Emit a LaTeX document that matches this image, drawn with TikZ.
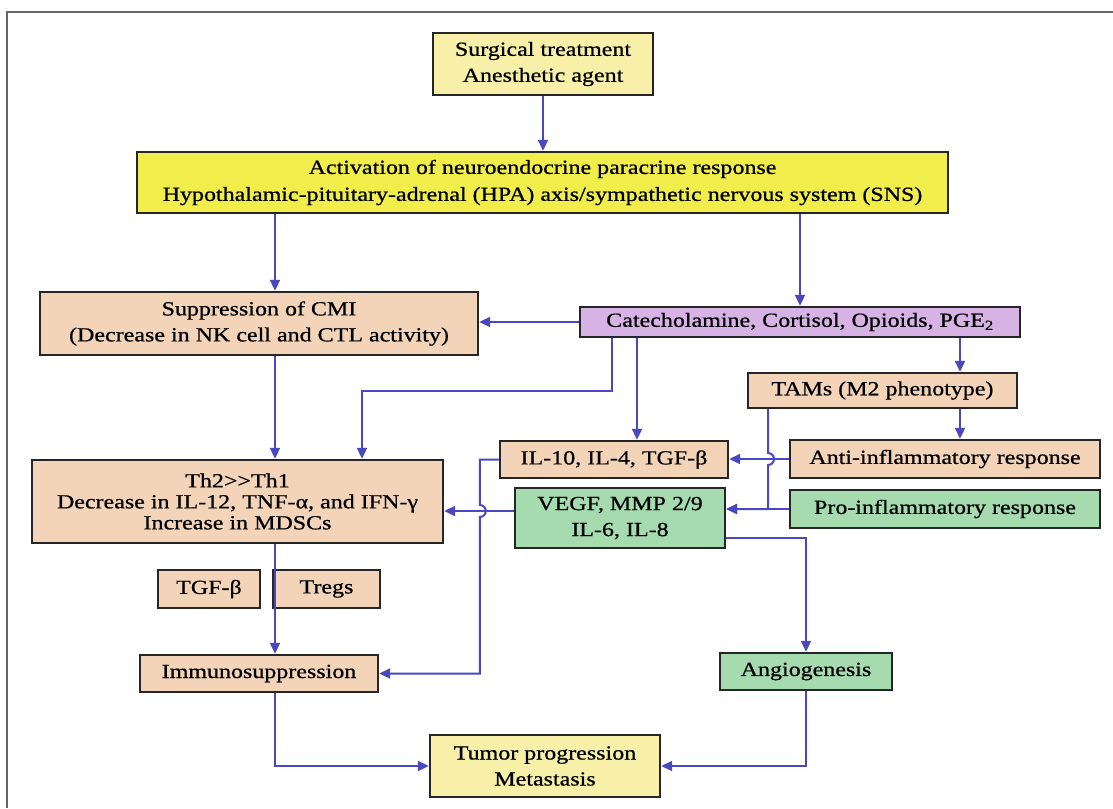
\documentclass[tikz,border=0pt]{standalone}
\usepackage{fontspec}
\setmainfont{Liberation Serif}[FakeStretch=1.2, FakeBold=0.7]
\usetikzlibrary{arrows.meta,calc}
\definecolor{palyel}{HTML}{F8F0A8}
\definecolor{brtyel}{HTML}{F1EE4C}
\definecolor{peach}{HTML}{F4D4B8}
\definecolor{lilac}{HTML}{D7B2E5}
\definecolor{mint}{HTML}{A6DBB0}
\definecolor{link}{HTML}{4A48C0}
\tikzset{
  box/.style={draw=black!85, line width=2.4pt, align=center, inner sep=0pt,
    font=\fontsize{20}{26}\selectfont},
  arr/.style={draw=link, line width=2pt, -{Triangle[length=11pt,width=10pt]}},
}
\begin{document}
\begin{tikzpicture}[x=1pt, y=-1pt]
  \useasboundingbox (0,0) rectangle (1113,808);
  % frame
  \draw[black!60, line width=1.2pt] (7,808) -- (7,12) -- (1113,12);
  % boxes
  \node[box, fill=palyel, minimum width=220, minimum height=62] (sur) at (543,64) {Surgical treatment\\Anesthetic agent};
  \node[box, fill=brtyel, minimum width=811, minimum height=61, font=\fontsize{20}{27}\selectfont] (act) at (542.5,182.5) {Activation of neuroendocrine paracrine response\\Hypothalamic-pituitary-adrenal (HPA) axis/sympathetic nervous system (SNS)};
  \node[box, fill=peach, minimum width=438, minimum height=63] (cmi) at (259,323.5) {Suppression of CMI\\(Decrease in NK cell and CTL activity)};
  \node[box, fill=lilac, minimum width=440, minimum height=30] (cat) at (800,322) {Catecholamine, Cortisol, Opioids, PGE\textsubscript{2}};
  \node[box, fill=peach, minimum width=269, minimum height=35] (tam) at (882.5,390.5) {TAMs (M2 phenotype)};
  \node[box, fill=peach, minimum width=228, minimum height=37] (il10) at (614,459.5) {IL-10, IL-4, TGF-β};
  \node[box, fill=peach, minimum width=310, minimum height=38] (anti) at (945,459) {Anti-inflammatory response};
  \node[box, fill=peach, minimum width=411, minimum height=83, font=\fontsize{20}{21}\selectfont] (th2) at (237.5,501.5) {Th2>{}>Th1\\Decrease in IL-12, TNF-α, and IFN-γ\\Increase in MDSCs};
  \node[box, fill=mint, minimum width=210, minimum height=60] (vegf) at (620,518) {VEGF, MMP 2/9\\IL-6, IL-8};
  \node[box, fill=mint, minimum width=310, minimum height=38] (pro) at (945,509) {Pro-inflammatory response};
  \node[box, fill=peach, minimum width=102, minimum height=38] (tgf) at (209,589) {TGF-β};
  \node[box, fill=peach, minimum width=107, minimum height=38] (treg) at (326.5,589) {Tregs};
  \node[box, fill=peach, minimum width=238, minimum height=37] (imm) at (259,673.5) {Immunosuppression};
  \node[box, fill=mint, minimum width=172, minimum height=37] (ang) at (806,671.5) {Angiogenesis};
  \node[box, fill=palyel, minimum width=230, minimum height=62] (tum) at (545,766) {Tumor progression\\Metastasis};
  % connectors
  \coordinate (cmin) at ([xshift=16pt]cmi.north);
  \coordinate (tamx) at ([xshift=-114.5pt]tam.south);
  \coordinate (vl) at ($(vegf.west)+(0,-7)$);
  \draw[arr] (sur.south) -- (act.north -| sur.south);
  \draw[arr] (act.south -| cmin) -- (cmin);
  \draw[arr] (act.south -| cat.north) -- (cat.north);
  \draw[arr] (cat.west) -- (cmi.east |- cat.west);
  \draw[arr] (cmi.south -| cmin) -- (th2.north -| cmin);
  \draw[arr] ([xshift=-188pt]cat.south) -- ++(0,53) -| ([xshift=124.5pt]th2.north);
  \draw[arr] ([xshift=-163pt]cat.south) -- ([xshift=23pt]il10.north);
  \draw[arr] ([xshift=160pt]cat.south) -- ([xshift=160pt]cat.south |- tam.north);
  \draw[arr] ([xshift=77.5pt]tam.south) -- ([xshift=77.5pt]tam.south |- anti.north);
  \draw[arr] (anti.west) -- (il10.east |- anti.west);
  \draw[arr] (tamx) -- ($(tamx |- anti.west)+(0,-6)$) arc[start angle=90, end angle=-90, radius=6pt]
    -- (tamx |- pro.west) -- (vegf.east |- pro.west);
  \draw[arr] (pro.west) -- (vegf.east |- pro.west);
  \draw[arr] (vl) -- (th2.east |- vl);
  \draw[arr] (il10.west) -| ($(il10.west |- vl)+(-19,-6)$) arc[start angle=90, end angle=-90, radius=6pt]
    -- ($(il10.west |- imm.east)+(-19,0)$) -- (imm.east);
  \draw[arr] (th2.south -| cmin) -- (imm.north -| cmin);
  \draw[arr] ($(vegf.east)+(0,20)$) -| (ang.north);
  \draw[arr] (imm.south -| cmin) |- (tum.west);
  \draw[arr] (ang.south) |- (tum.east);
\end{tikzpicture}
\end{document}
